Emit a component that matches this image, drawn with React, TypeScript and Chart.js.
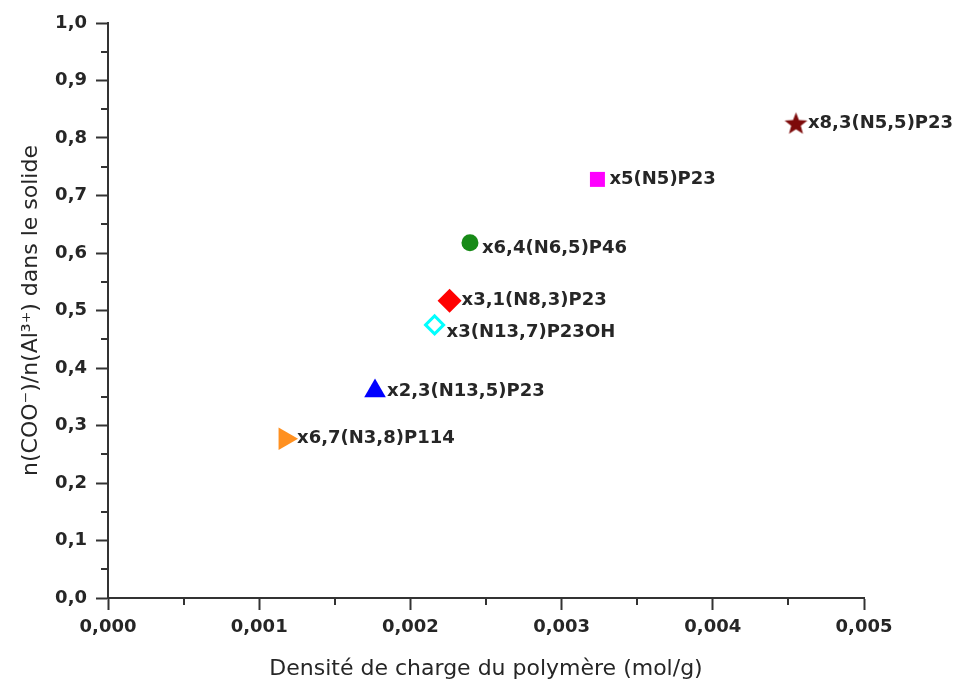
import { useEffect, useRef } from 'react';
import { Chart, registerables } from 'chart.js';

Chart.register(...registerables);

// ---- data ----
const sampleNames = [
  'x8,3(N5,5)P23',
  'x5(N5)P23',
  'x6,4(N6,5)P46',
  'x3,1(N8,3)P23',
  'x3(N13,7)P23OH',
  'x2,3(N13,5)P23',
  'x6,7(N3,8)P114',
];
const chargeDensity = [0.00455, 0.003237, 0.002394, 0.002259, 0.00216, 0.001766, 0.001171];
const carboxylateRatio = [0.826, 0.728, 0.618, 0.517, 0.475, 0.36, 0.277];

const xTickValues = [0, 0.001, 0.002, 0.003, 0.004, 0.005];
const yTickValues = [0, 0.1, 0.2, 0.3, 0.4, 0.5, 0.6, 0.7, 0.8, 0.9, 1.0];

const xTitle = 'Densité de charge du polymère (mol/g)';
const yTitle = 'n(COO⁻)/n(Al³⁺) dans le solide';

// ---- styles ----
const markerColors = ['#7d0a0a', '#ff00ff', '#178a17', '#ff0000', '#00ffff', '#0000ff', '#ff9020'];
const markerKinds = ['star', 'square', 'circle', 'diamond', 'hollowDiamond', 'triangle', 'triangleRight'];
const labelNudgeY = [0, 0, 6, 0, 7, 0, 0];

function makeStar(color: string, size: number) {
  const c = document.createElement('canvas');
  c.width = size;
  c.height = size;
  const ctx = c.getContext('2d')!;
  const R = size / 2 - 0.5;
  const r = R * 0.42;
  const cx = size / 2;
  const cy = size / 2 + (R - R * Math.cos(Math.PI / 5)) / 2;
  ctx.beginPath();
  for (let i = 0; i < 10; i++) {
    const ang = -Math.PI / 2 + (i * Math.PI) / 5;
    const rad = i % 2 === 0 ? R : r;
    ctx.lineTo(cx + rad * Math.cos(ang), cy + rad * Math.sin(ang));
  }
  ctx.closePath();
  ctx.fillStyle = color;
  ctx.fill();
  return c;
}

function markerStyle(kind: string, color: string) {
  switch (kind) {
    case 'star':
      return { pointStyle: makeStar(color, 25), pointRadius: 12, backgroundColor: color, borderColor: color, borderWidth: 0 };
    case 'square':
      return { pointStyle: 'rect', pointRadius: 10.6, backgroundColor: color, borderColor: color, borderWidth: 0 };
    case 'circle':
      return { pointStyle: 'circle', pointRadius: 8.5, backgroundColor: color, borderColor: color, borderWidth: 0 };
    case 'diamond':
      return { pointStyle: 'rectRot', pointRadius: 12, backgroundColor: color, borderColor: color, borderWidth: 0 };
    case 'hollowDiamond':
      return { pointStyle: 'rectRot', pointRadius: 9, backgroundColor: '#ffffff', borderColor: color, borderWidth: 3 };
    case 'triangle':
      return { pointStyle: 'triangle', pointRadius: 12.5, backgroundColor: color, borderColor: color, borderWidth: 0 };
    case 'triangleRight':
    default:
      return { pointStyle: 'triangle', pointRadius: 13, pointRotation: 90, backgroundColor: color, borderColor: color, borderWidth: 0 };
  }
}

const AXIS_COLOR = '#333333';
const TEXT_COLOR = '#262626';

const pointLabelPlugin = {
  id: 'pointLabels',
  beforeDatasetsDraw(chart: any) {
    const ctx = chart.ctx;
    ctx.save();
    ctx.font = 'bold 18px "DejaVu Sans"';
    ctx.fillStyle = TEXT_COLOR;
    ctx.textAlign = 'left';
    ctx.textBaseline = 'middle';
    chart.data.datasets.forEach((ds: any, i: number) => {
      const el = chart.getDatasetMeta(i).data[0];
      if (!el) return;
      ctx.fillText(ds.label, el.x + 12, el.y + labelNudgeY[i]);
    });
    ctx.restore();
  },
};

const minorTickPlugin = {
  id: 'minorTicks',
  afterDraw(chart: any) {
    const { x, y } = chart.scales;
    const ctx = chart.ctx;
    ctx.save();
    ctx.strokeStyle = AXIS_COLOR;
    ctx.lineWidth = 2;
    ctx.beginPath();
    for (let i = 0; i < xTickValues.length - 1; i++) {
      const v = (xTickValues[i] + xTickValues[i + 1]) / 2;
      const px = Math.round(x.getPixelForValue(v));
      ctx.moveTo(px, y.bottom);
      ctx.lineTo(px, y.bottom + 7);
    }
    for (let i = 0; i < yTickValues.length - 1; i++) {
      const v = (yTickValues[i] + yTickValues[i + 1]) / 2;
      const py = Math.round(y.getPixelForValue(v));
      ctx.moveTo(x.left - 7, py);
      ctx.lineTo(x.left, py);
    }
    ctx.stroke();
    ctx.restore();
  },
};

export default function App() {
  const canvasRef = useRef<HTMLCanvasElement | null>(null);

  useEffect(() => {
    if (!canvasRef.current) return;
    const datasets = sampleNames.map((name, i) => ({
      label: name,
      data: [{ x: chargeDensity[i], y: carboxylateRatio[i] }],
      ...markerStyle(markerKinds[i], markerColors[i]),
    }));

    const tickFont = { family: '"DejaVu Sans"', size: 18, weight: 'bold' as const };
    const titleFont = { family: '"DejaVu Sans"', size: 22 };

    const chart = new Chart(canvasRef.current, {
      type: 'scatter',
      data: { datasets: datasets as any },
      plugins: [pointLabelPlugin, minorTickPlugin],
      options: {
        responsive: false,
        animation: false,
        layout: { padding: { left: 14, top: 23, right: 106, bottom: 0 } },
        plugins: {
          legend: { display: false },
          tooltip: { enabled: false },
        },
        scales: {
          x: {
            type: 'linear',
            min: xTickValues[0],
            max: xTickValues[xTickValues.length - 1],
            afterFit: (s: any) => {
              s.height = 84;
            },
            afterBuildTicks: (s: any) => {
              s.ticks = xTickValues.map((v) => ({ value: v }));
            },
            ticks: {
              callback: (v: any) => Number(v).toFixed(3).replace('.', ','),
              font: tickFont,
              color: TEXT_COLOR,
              padding: 7,
              maxRotation: 0,
              autoSkip: false,
            },
            grid: {
              drawOnChartArea: false,
              drawTicks: true,
              tickLength: 12,
              tickWidth: 2,
              tickColor: AXIS_COLOR,
            },
            border: { display: true, color: AXIS_COLOR, width: 2 },
            title: {
              display: true,
              text: xTitle,
              font: titleFont,
              color: TEXT_COLOR,
              padding: { top: 1, bottom: 0 },
            },
          },
          y: {
            type: 'linear',
            min: yTickValues[0],
            max: yTickValues[yTickValues.length - 1],
            afterFit: (s: any) => {
              s.width = 94;
            },
            afterBuildTicks: (s: any) => {
              s.ticks = yTickValues.map((v) => ({ value: v }));
            },
            ticks: {
              callback: (v: any) => Number(v).toFixed(1).replace('.', ','),
              font: tickFont,
              color: TEXT_COLOR,
              padding: 9,
              autoSkip: false,
            },
            grid: {
              drawOnChartArea: false,
              drawTicks: true,
              tickLength: 12,
              tickWidth: 2,
              tickColor: AXIS_COLOR,
            },
            border: { display: true, color: AXIS_COLOR, width: 2 },
            title: {
              display: true,
              text: yTitle,
              font: titleFont,
              color: TEXT_COLOR,
              padding: { top: 4, bottom: 4 },
            },
          },
        },
      } as any,
    });
    return () => chart.destroy();
  }, []);

  return (
    <div style={{ position: 'fixed', left: 0, top: 0, width: 970, height: 682, background: '#ffffff' }}>
      <canvas ref={canvasRef} width={970} height={682} style={{ display: 'block' }} />
    </div>
  );
}
